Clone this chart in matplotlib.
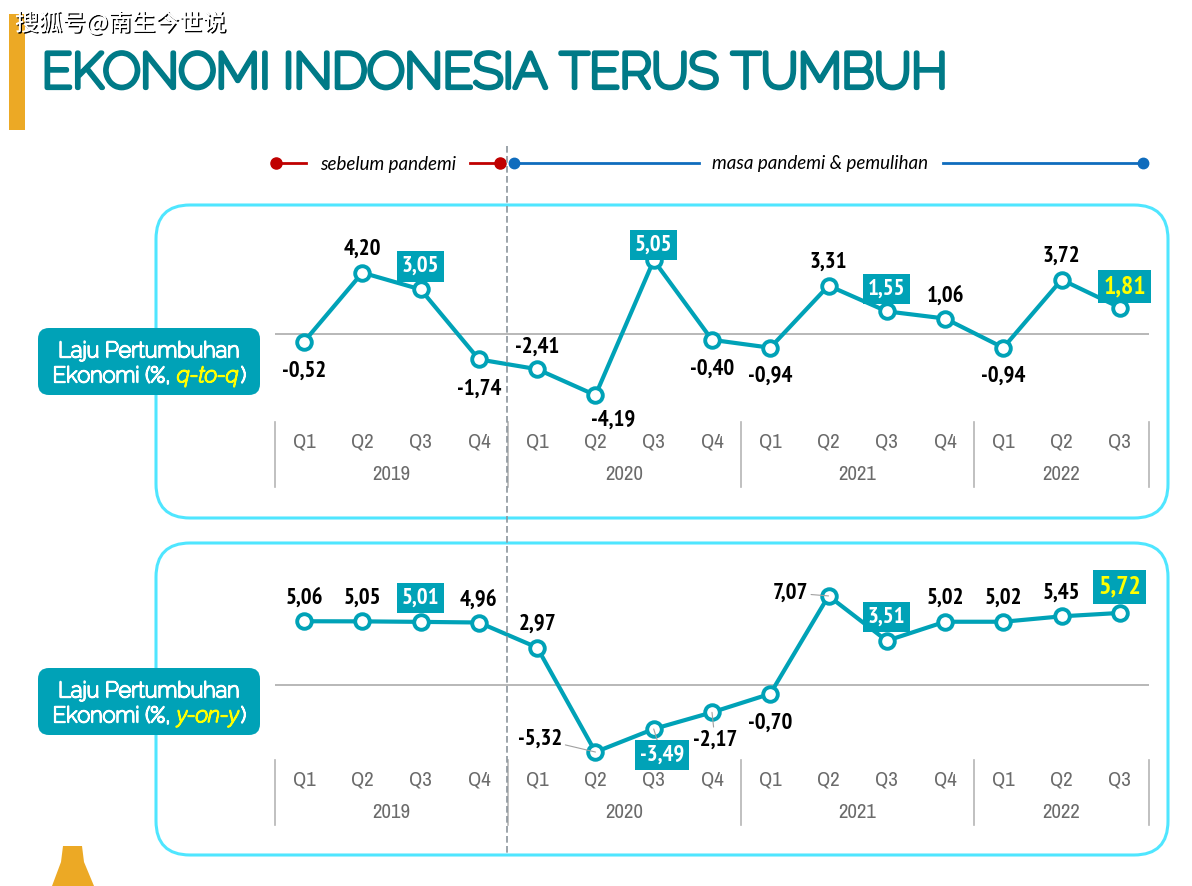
import matplotlib
matplotlib.use('Agg')
import matplotlib.pyplot as plt
import matplotlib.patheffects as pe
from matplotlib.patches import FancyBboxPatch, Rectangle, Polygon
from matplotlib.transforms import blended_transform_factory

W, H = 1192, 886

quarters = ['Q1', 'Q2', 'Q3', 'Q4'] * 3 + ['Q1', 'Q2', 'Q3']
years = ['2019', '2020', '2021', '2022']
year_centers = [1.5, 5.5, 9.5, 13.0]
year_edges = [-0.5, 3.5, 7.5, 11.5, 14.5]

qtq = [-0.52, 4.20, 3.05, -1.74, -2.41, -4.19, 5.05, -0.40, -0.94, 3.31, 1.55, 1.06, -0.94, 3.72, 1.81]
yoy = [5.06, 5.05, 5.01, 4.96, 2.97, -5.32, -3.49, -2.17, -0.70, 7.07, 3.51, 5.02, 5.02, 5.45, 5.72]

# label offsets from the point, in pixels (dx, dy downwards)
qtq_off = [(0, 28), (0, -25), (0, -25), (0, 28), (0, -24), (18, 23), (0, -17), (0, 27),
           (0, 27), (0, -25), (0, -24), (0, -24), (0, 27), (0, -25), (5, -23)]
yoy_off = [(0, -25), (0, -25), (0, -26), (0, -24), (0, -25), (-55, -15), (8, 24), (3, 26),
           (0, 27), (-38, -5), (0, -26), (0, -25), (0, -25), (0, -25), (0, -28)]
qtq_box = [2, 6, 10, 14]
yoy_box = [2, 6, 10, 14]
yoy_leader = [5, 6, 7, 9]

TEAL = '#00A2B7'
NARROW_BOLD = ['PT Sans Narrow', 'Archivo Narrow', 'DejaVu Sans']
NARROW = ['Archivo Narrow', 'PT Sans Narrow', 'DejaVu Sans']
HEAD = ['Raleway', 'Lato', 'DejaVu Sans']

fig = plt.figure(figsize=(W / 100, H / 100), dpi=100)
ov = fig.add_axes([0, 0, 1, 1])
ov.set_xlim(0, W)
ov.set_ylim(H, 0)
ov.axis('off')


def fmt(v):
    return ('%.2f' % v).replace('.', ',')


def heavy(width, colour):
    # Raleway only comes in its thin weight here, so thicken it with a stroke
    return [pe.withStroke(linewidth=width, foreground=colour)]


def panel(top, bottom, zero_px, scale, values, offsets, boxes, leaders, tick_top):
    # the axes run over the whole panel so that index -0.5 lands on the left rule
    ax = fig.add_axes([275 / W, 1 - bottom / H, (1149 - 275) / W, (bottom - top) / H])
    ax.set_xlim(-0.5, 14.5)
    ax.set_ylim((zero_px - bottom) / scale, (zero_px - top) / scale)
    ax.axis('off')
    ax.patch.set_alpha(0)
    ax.axhline(0, color='#ababab', lw=1.2, zorder=1)
    ax.plot(range(15), values, color=TEAL, lw=3.0, marker='o', ms=10.5, mfc='white',
            mew=2.8, mec=TEAL, zorder=3, solid_joinstyle='round')

    for i, v in enumerate(values):
        dx, dy = offsets[i]
        last = i == 14
        kw = dict(ha='center', va='center', family=NARROW_BOLD, weight='bold', fontsize=16.5,
                  color='black', zorder=5)
        if i in boxes:
            kw.update(color='#FFFF00' if last else 'white',
                      bbox=dict(boxstyle='square,pad=0.2', fc=TEAL, ec='none'))
            if last:
                kw['fontsize'] = 18.5
        if i in leaders:
            kw['arrowprops'] = dict(arrowstyle='-', color='#a0a0a0', lw=0.8, shrinkA=0, shrinkB=0)
        ax.annotate(fmt(v), xy=(i, v), xytext=(dx, -dy - 2), textcoords='offset pixels', **kw)

    tr = blended_transform_factory(ax.transData, ov.transData)
    for i, q in enumerate(quarters):
        ax.text(i, tick_top + 20, q, transform=tr, ha='center', va='center',
                family=NARROW, fontsize=15, color='#6b6b6b')
    for c, y in zip(year_centers, years):
        ax.text(c, tick_top + 52, y, transform=tr, ha='center', va='center',
                family=NARROW, fontsize=15, color='#6b6b6b')
    for e in year_edges:
        ax.plot([e, e], [tick_top, tick_top + 65], transform=tr, color='#b5b5b5', lw=1.2, clip_on=False)


def frame(y0, y1):
    ov.add_patch(FancyBboxPatch((156 + 34, y0 + 34), 1012 - 68, y1 - y0 - 68,
                                boxstyle='round,pad=34,rounding_size=34', fc='none', ec='#4FE6FF', lw=2.2))


def side_label(y0, y1, tag):
    ov.add_patch(FancyBboxPatch((38 + 11, y0 + 11), 222 - 22, y1 - y0 - 22,
                                boxstyle='round,pad=11,rounding_size=11', fc=TEAL, ec='none'))
    ov.text(149, y0 + 23, 'Laju Pertumbuhan', ha='center', va='center', color='white',
            family=HEAD, fontsize=15.8, path_effects=heavy(1.3, 'white'))
    ov.text(177, y0 + 48, 'Ekonomi (%, ', ha='right', va='center', color='white',
            family=HEAD, fontsize=15.8, path_effects=heavy(1.3, 'white'))
    ov.text(177, y0 + 48, tag, ha='left', va='center', color='#FFFF00',
            family=HEAD, style='italic', fontsize=15.8, path_effects=heavy(1.3, '#FFFF00'))
    ov.text(241, y0 + 48, ')', ha='left', va='center', color='white',
            family=HEAD, fontsize=15.8, path_effects=heavy(1.3, 'white'))


# header
ov.add_patch(Rectangle((9, 14), 16, 116, fc='#ECA925', ec='none'))
ov.text(42, 75, 'EKONOMI INDONESIA TERUS TUMBUH', ha='left', va='center', color='#007A87',
        family=HEAD, fontsize=35.5, path_effects=heavy(3.4, '#007A87'))
ov.text(15, 23, '搜狐号@南生今世说', ha='left', va='center', color='white',
        family=['Noto Sans CJK SC', 'DejaVu Sans'], fontsize=17,
        path_effects=[pe.withSimplePatchShadow(offset=(1, -1), shadow_rgbFace='black', alpha=1), pe.Normal()])

# period strip
RED, BLUE = '#C00000', '#0F6CBD'
ov.plot([276, 306], [163, 163], color=RED, lw=2)
ov.plot([470, 500], [163, 163], color=RED, lw=2)
ov.plot([276, 500], [163, 163], ls='none', marker='o', ms=8, color=RED)
ov.plot([514, 699], [163, 163], color=BLUE, lw=2)
ov.plot([943, 1143], [163, 163], color=BLUE, lw=2)
ov.plot([514, 1143], [163, 163], ls='none', marker='o', ms=7.5, color=BLUE)
ov.text(388, 164, 'sebelum pandemi', ha='center', va='center', family='Lato', style='italic', fontsize=13.5)
ov.text(820, 163, 'masa pandemi & pemulihan', ha='center', va='center', family='Lato', style='italic', fontsize=13.5)

frame(205, 518)
frame(543, 855)
side_label(328, 395, 'q-to-q')
side_label(668, 735, 'y-on-y')

panel(205, 518, 334, 14.6, qtq, qtq_off, qtq_box, [], 422)
panel(543, 855, 685, 12.6, yoy, yoy_off, yoy_box, yoy_leader, 760)

# divider on top of both panels
top_ax = fig.add_axes([0, 0, 1, 1])
top_ax.set_xlim(0, W)
top_ax.set_ylim(H, 0)
top_ax.axis('off')
top_ax.patch.set_alpha(0)
top_ax.plot([507, 507], [146, 856], color='#8b959c', lw=1.2, ls=(0, (4, 2)))

# bit of the logo cut off by the page edge
ov.add_patch(Polygon([(63, 846), (82, 846), (84, 862), (94, 886), (52, 886), (61, 862)], fc='#ECA925', ec='none'))

fig.savefig('out.png', dpi=100)
